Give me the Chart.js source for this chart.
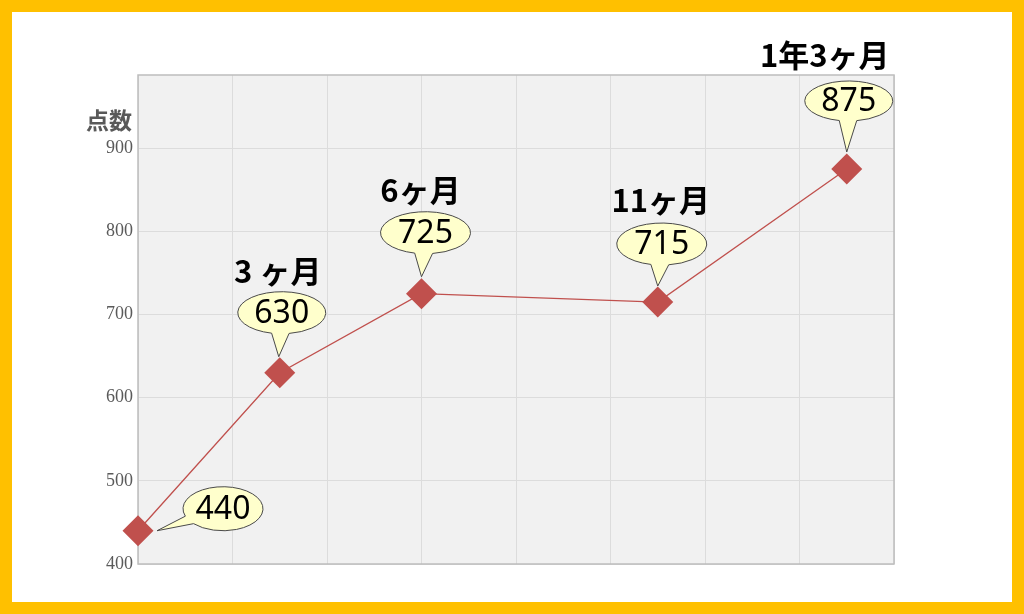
<!DOCTYPE html>
<html lang="ja">
<head>
  <meta charset="UTF-8">
  <title>点数の推移</title>
  <script src="https://cdn.jsdelivr.net/npm/chart.js"></script>
  <style>
    html, body { margin: 0; padding: 0; background: #FFC000; }
    #frame { position: absolute; left: 12px; top: 12px; width: 1000px; height: 590px; background: #fff; }
  </style>
</head>
<body>
  <div id="frame"><canvas id="scoreChart"></canvas></div>

  <script>
    // データ
    const months = [0, 3, 6, 11, 15];          // 経過月数
    const scores = [440, 630, 725, 715, 875];  // 点数
    const periodLabels = ['', '3 ヶ月', '6ヶ月', '11ヶ月', '1年3ヶ月'];
    const yMin = 400, yMax = 988, yStep = 100;
    const xMin = 0, xMax = 16, xStep = 2;

    // 吹き出しと期間ラベルの位置（点からのずれ）
    const calloutPos = [
      { dx: 85, dy: -22, rx: 40, ry: 22, tx: 19, ty: 0 },
      { dx: 2, dy: -60, rx: 44, ry: 21, tx: -1, ty: -16 },
      { dx: 4, dy: -61, rx: 45, ry: 21, tx: 0, ty: -17 },
      { dx: 4, dy: -58, rx: 45, ry: 21, tx: 0, ty: -16 },
      { dx: 2, dy: -68, rx: 44, ry: 20, tx: 0, ty: -17 }
    ];
    const labelPos = [null, { dx: -2, dy: -102 }, { dx: -1, dy: -104 }, { dx: 3, dy: -102 }, { dx: -22, dy: -114 }];

    const RED = '#C0504D';

    const plotDeco = {
      id: 'plotDeco',
      beforeDraw(chart) {
        const a = chart.chartArea, c = chart.ctx;
        c.save();
        c.fillStyle = '#f1f1f1';
        c.fillRect(a.left, a.top, a.right - a.left, a.bottom - a.top);
        c.restore();
      },
      beforeDatasetsDraw(chart) {
        const a = chart.chartArea, c = chart.ctx;
        c.save();
        c.strokeStyle = '#bdbdbd';
        c.lineWidth = 1.5;
        c.strokeRect(a.left, a.top, a.right - a.left, a.bottom - a.top);
        // 縦軸タイトル
        c.fillStyle = '#595959';
        c.font = 'bold 23px "Noto Sans CJK JP"';
        c.textAlign = 'center';
        c.textBaseline = 'middle';
        c.fillText('点数', a.left - 29, a.top + 45);
        c.restore();
      },
      afterDatasetsDraw(chart) {
        const c = chart.ctx;
        const pts = chart.getDatasetMeta(0).data;
        c.save();
        pts.forEach((p, i) => {
          const o = calloutPos[i];
          const cx = p.x + o.dx, cy = p.y + o.dy;
          const tipX = p.x + o.tx, tipY = p.y + o.ty;
          const th = Math.atan2((tipY - cy) / o.ry, (tipX - cx) / o.rx);
          const d = 0.2;
          c.beginPath();
          c.moveTo(tipX, tipY);
          c.lineTo(cx + o.rx * Math.cos(th + d), cy + o.ry * Math.sin(th + d));
          c.ellipse(cx, cy, o.rx, o.ry, 0, th + d, th - d + Math.PI * 2);
          c.closePath();
          c.fillStyle = '#FFFFCC';
          c.fill();
          c.strokeStyle = '#4a4a4a';
          c.lineWidth = 1;
          c.stroke();

          c.fillStyle = '#000';
          c.font = '32px "Noto Sans"';
          c.textAlign = 'center';
          c.textBaseline = 'middle';
          c.fillText(String(scores[i]), cx, cy + 1);

          const l = labelPos[i];
          if (l && periodLabels[i]) {
            c.font = 'bold 31px "Noto Sans CJK JP"';
            c.fillText(periodLabels[i], p.x + l.dx, p.y + l.dy);
          }
        });
        c.restore();
      }
    };

    const ctx = document.getElementById('scoreChart').getContext('2d');
    new Chart(ctx, {
      type: 'line',
      data: {
        datasets: [{
          data: months.map((m, i) => ({ x: m, y: scores[i] })),
          borderColor: RED,
          borderWidth: 1.3,
          backgroundColor: RED,
          pointStyle: 'rectRot',
          pointRadius: 15.5,
          pointHoverRadius: 15.5,
          pointBackgroundColor: RED,
          pointBorderWidth: 0,
          tension: 0,
          clip: false
        }]
      },
      options: {
        responsive: true,
        maintainAspectRatio: false,
        animation: false,
        layout: { padding: { left: 76, top: 63, right: 118, bottom: 38 } },
        plugins: {
          legend: { display: false },
          tooltip: { enabled: false }
        },
        scales: {
          x: {
            type: 'linear',
            min: xMin,
            max: xMax,
            ticks: { display: false, stepSize: xStep },
            grid: { color: '#dcdcdc', drawTicks: false },
            border: { display: false },
            afterFit(scale) { scale.height = 0; }
          },
          y: {
            min: yMin,
            max: yMax,
            ticks: {
              stepSize: yStep,
              padding: 5,
              color: '#5a5a5a',
              font: { family: '"Liberation Serif"', size: 18 }
            },
            afterBuildTicks(scale) {
              scale.ticks = scale.ticks.filter(t => t.value % yStep === 0);
            },
            grid: { color: '#dcdcdc', drawTicks: false },
            border: { display: false },
            afterFit(scale) { scale.width = 50; }
          }
        }
      },
      plugins: [plotDeco]
    });
  </script>
</body>
</html>
